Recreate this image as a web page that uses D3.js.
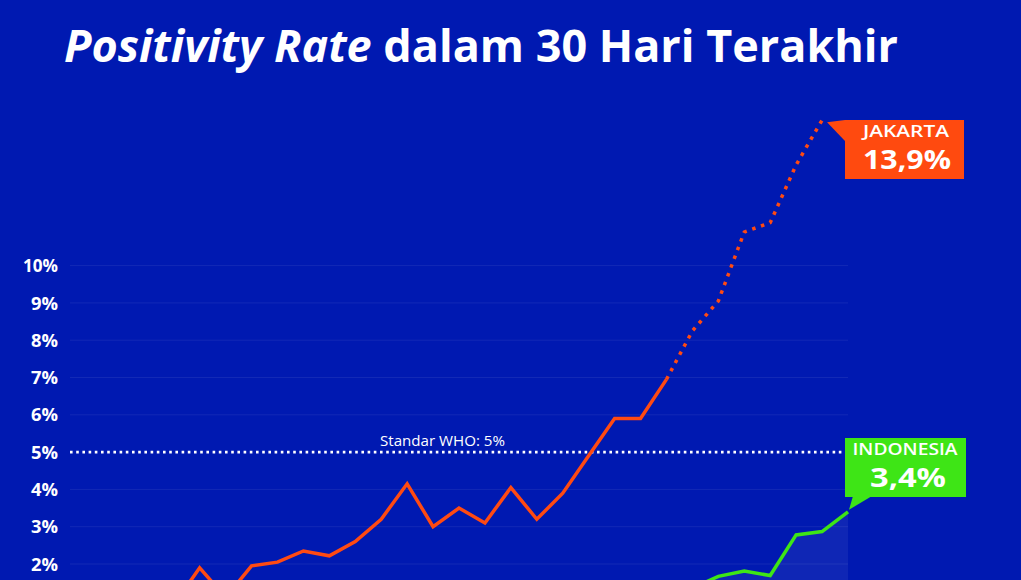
<!DOCTYPE html>
<html>
<head>
<meta charset="utf-8">
<script src="https://cdn.jsdelivr.net/npm/d3@7"></script>
<style>
  html, body { margin: 0; padding: 0; background: #0019b1; overflow: hidden; }
  svg { display: block; }
  text { font-family: "Open Sans", "DejaVu Sans", sans-serif; fill: #ffffff; }
</style>
</head>
<body>
<svg id="chart" width="1021" height="580"></svg>
<script>
// ---- data ----
const days = d3.range(31);                       // 31 daily points (30 hari)
const jakarta = [1.2, 1.0, 1.3, 1.1, 0.9, 1.9, 1.1, 1.95, 2.05, 2.35,
                 2.22, 2.6, 3.2, 4.15, 3.0, 3.5, 3.1, 4.05, 3.2, 3.9,
                 4.9, 5.9, 5.9, 6.95, 8.25, 9.05, 10.9, 11.15, 12.7, 13.9];
const jakartaSolidEnd = 23;                      // index where dotted part begins
const indonesia = [1.2, 1.25, 1.3, 1.2, 1.25, 1.3, 1.2, 1.3, 1.25, 1.3,
                   1.35, 1.3, 1.4, 1.35, 1.3, 1.4, 1.35, 1.4, 1.3, 1.35,
                   1.4, 1.35, 1.4, 1.3, 1.35, 1.67, 1.81, 1.69, 2.78, 2.87, 3.4];
const yTicks = [2, 3, 4, 5, 6, 7, 8, 9, 10];
const gridTicks = [1, 2, 3, 4, 6, 7, 8, 9, 10];
const whoStandard = 5;
const titleItalic = "Positivity Rate";
const titleRest = " dalam 30 Hari Terakhir";
const whoLabel = "Standar WHO: 5%";
const labelJakarta = ["JAKARTA", "13,9%"];
const labelIndonesia = ["INDONESIA", "3,4%"];

// ---- layout ----
const svg = d3.select("#chart");
const x = d3.scaleLinear().domain([0, 30]).range([70, 848]);
const y = d3.scaleLinear().domain([0, 10]).range([638.6, 265.6]);

// title
const title = svg.append("text")
  .attr("x", 64).attr("y", 62)
  .attr("font-size", 44).attr("font-weight", 700);
title.append("tspan").attr("font-style", "italic").text(titleItalic);
title.append("tspan").text(titleRest);
title.attr("textLength", 834).attr("lengthAdjust", "spacingAndGlyphs");

// grid lines
svg.append("g").selectAll("line")
  .data(gridTicks)
  .join("line")
  .attr("x1", x(0)).attr("x2", x(30))
  .attr("y1", d => y(d)).attr("y2", d => y(d))
  .attr("stroke", "rgba(255,255,255,0.07)")
  .attr("stroke-width", 1);

// y axis labels
const yAxis = d3.axisLeft(y).tickValues(yTicks).tickFormat(d => d + "%").tickSize(0).tickPadding(0);
const ya = svg.append("g").attr("transform", "translate(58,0)").call(yAxis);
ya.select(".domain").remove();
ya.selectAll("text")
  .attr("font-size", 17).attr("font-weight", 700)
  .attr("font-family", "'Open Sans', sans-serif")
  .attr("fill", "#fff").attr("dy", "0.36em")
  .attr("textLength", d => (d >= 10 ? 35 : 27))
  .attr("lengthAdjust", "spacingAndGlyphs");

// area under Indonesia
svg.append("path")
  .datum(indonesia)
  .attr("d", d3.area().x((d, i) => x(days[i])).y0(y(-2)).y1(d => y(d)))
  .attr("fill", "rgba(255,255,255,0.06)");

// WHO line
svg.append("line")
  .attr("x1", x(0)).attr("x2", x(30))
  .attr("y1", y(whoStandard)).attr("y2", y(whoStandard))
  .attr("stroke", "#fff").attr("stroke-width", 2.6)
  .attr("stroke-dasharray", "2.6 3.6");
svg.append("text")
  .attr("x", 380).attr("y", 446)
  .attr("font-size", 14.5)
  .attr("textLength", 125).attr("lengthAdjust", "spacingAndGlyphs")
  .text(whoLabel);

const line = d3.line().x(d => x(d.i)).y(d => y(d.v));
const jk = jakarta.map((v, i) => ({ i: days[i], v }));
const idn = indonesia.map((v, i) => ({ i: days[i], v }));

// Indonesia line
svg.append("path").datum(idn).attr("d", line)
  .attr("fill", "none").attr("stroke", "#3ee516").attr("stroke-width", 3.5)
  .attr("stroke-linejoin", "miter");

// Jakarta lines
svg.append("path").datum(jk.slice(0, jakartaSolidEnd + 1)).attr("d", line)
  .attr("fill", "none").attr("stroke", "#ff4a12").attr("stroke-width", 3.5)
  .attr("stroke-linejoin", "miter");
svg.append("path").datum(jk.slice(jakartaSolidEnd)).attr("d", line)
  .attr("fill", "none").attr("stroke", "#ff4a12").attr("stroke-width", 3.5)
  .attr("stroke-dasharray", "3.5 5.8");

// Jakarta label
const jx = x(jakarta.length - 1), jy = y(jakarta[jakarta.length - 1]);
svg.append("path")
  .attr("d", `M${jx + 5},${jy + 2} L${845},${120} L${845},${141} Z`)
  .attr("fill", "#ff4a0f");
svg.append("rect").attr("x", 845).attr("y", 120).attr("width", 119).attr("height", 59)
  .attr("fill", "#ff4a0f");
svg.append("text").attr("x", 906).attr("y", 137).attr("text-anchor", "middle")
  .attr("font-size", 16).attr("font-weight", 600)
  .attr("textLength", 86).attr("lengthAdjust", "spacingAndGlyphs")
  .text(labelJakarta[0]);
svg.append("text").attr("x", 907).attr("y", 169).attr("text-anchor", "middle")
  .attr("font-size", 27).attr("font-weight", 700)
  .attr("textLength", 88).attr("lengthAdjust", "spacingAndGlyphs")
  .text(labelJakarta[1]);

// Indonesia label
const ix = x(indonesia.length - 1), iy = y(indonesia[indonesia.length - 1]);
svg.append("path")
  .attr("d", `M${853},${496} L${872},${496} L${ix + 1},${iy - 2} Z`)
  .attr("fill", "#3ee516");
svg.append("rect").attr("x", 845).attr("y", 438).attr("width", 121).attr("height", 59)
  .attr("fill", "#3ee516");
svg.append("text").attr("x", 905).attr("y", 455).attr("text-anchor", "middle")
  .attr("font-size", 16).attr("font-weight", 600)
  .attr("textLength", 105).attr("lengthAdjust", "spacingAndGlyphs")
  .text(labelIndonesia[0]);
svg.append("text").attr("x", 908).attr("y", 487).attr("text-anchor", "middle")
  .attr("font-size", 27).attr("font-weight", 700)
  .attr("textLength", 76).attr("lengthAdjust", "spacingAndGlyphs")
  .text(labelIndonesia[1]);
</script>
</body>
</html>
